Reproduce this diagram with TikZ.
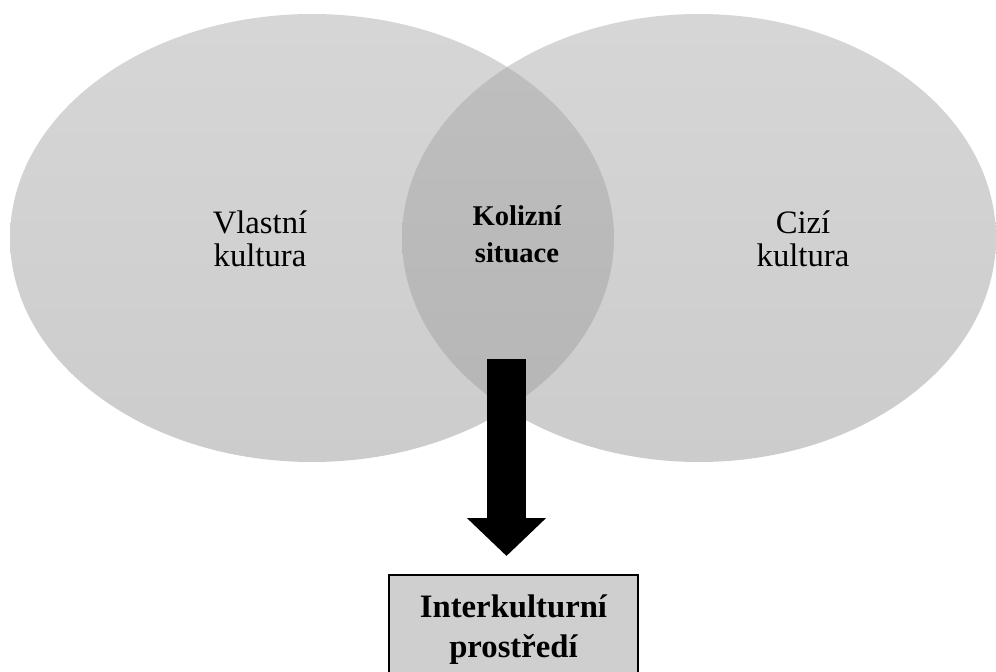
\documentclass[tikz,border=0pt]{standalone}
\usepackage{fontspec}
\setmainfont{Liberation Serif}
\usepackage{tikz}
\usetikzlibrary{arrows.meta}
\tikzset{kult/.style={align=center,inner sep=0pt,font=\fontsize{32.7}{33}\selectfont},
         koliz/.style={align=center,inner sep=0pt,font=\bfseries\fontsize{28.6}{37}\selectfont},
         prost/.style={draw,line width=2pt,fill=black!19,align=center,minimum width=249pt,minimum height=110pt,font=\bfseries\fontsize{32.7}{40}\selectfont}}

\begin{document}
\begin{tikzpicture}[x=1pt,y=-1pt]
    \useasboundingbox (0,0) rectangle (996,672);
    \clip (0,0) rectangle (996,672);

    \shade [top color=black!16,bottom color=black!20] (312,238) ellipse [x radius=302,y radius=224];
    \shade [top color=black!16,bottom color=black!20] (699,238) ellipse [x radius=297,y radius=224];
    \begin{scope}
        \clip (312,238) ellipse [x radius=302,y radius=224];
        \shade [top color=black!25,bottom color=black!29] (699,238) ellipse [x radius=297,y radius=224];
    \end{scope}

    \node[kult] (vlast) at (260,239) {Vlastní\\ kultura};
    \node[kult] (cizi) at (803,239) {Cizí\\kultura};
    \node[koliz] (kol) at (517,234) {Kolizní\\situace};
    \node[prost,anchor=north] (inter) at (513.5,574) {Interkulturní\\prostředí};

    \coordinate (src) at (506.5,359);
    \draw [line width=39pt,-{Triangle[width=77pt,length=38pt]},shorten >=18pt] (src) -- (src |- inter.north);
\end{tikzpicture}
\end{document}
